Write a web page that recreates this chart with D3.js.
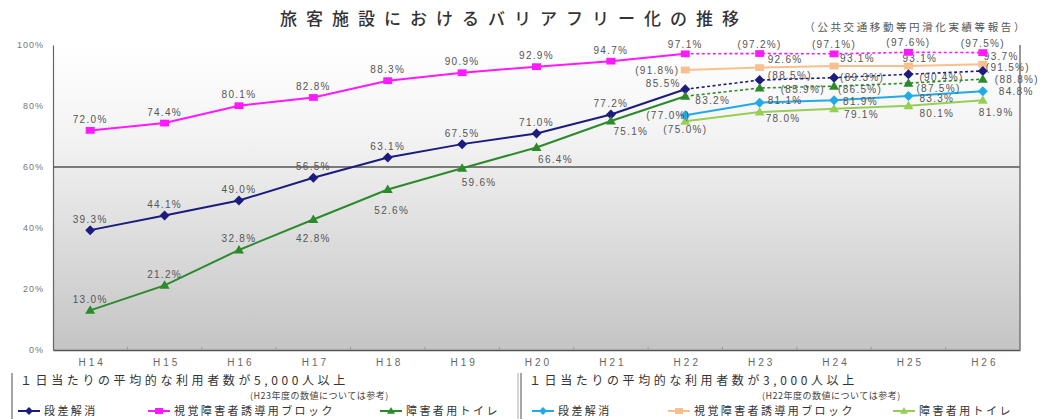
<!DOCTYPE html>
<html lang="ja">
<head>
<meta charset="utf-8">
<script src="https://cdn.jsdelivr.net/npm/d3@7/dist/d3.min.js"></script>
<style>
  html, body { margin: 0; padding: 0; background: #fff; }
  svg { display: block; }
  text { font-family: "Liberation Sans", "Noto Sans CJK JP", sans-serif; }
  .jp { font-family: "Noto Sans CJK JP", sans-serif; }
</style>
</head>
<body>
<svg id="chart" width="1040" height="419"></svg>
<script>
// ---- data -------------------------------------------------------------
const categories = ["H14","H15","H16","H17","H18","H19","H20","H21","H22","H23","H24","H25","H26"];
const yTicks = [0, 20, 40, 60, 80, 100];

// 1日当たり5,000人以上 (H14–H22 実績, H23–H26 参考値)
const step5000      = [39.3, 44.1, 49.0, 56.5, 63.1, 67.5, 71.0, 77.2, 85.5];
const step5000Ref   = [88.5, 89.3, 90.4, 91.5];
const block5000     = [72.0, 74.4, 80.1, 82.8, 88.3, 90.9, 92.9, 94.7, 97.1];
const block5000Ref  = [97.2, 97.1, 97.6, 97.5];
const toilet5000    = [13.0, 21.2, 32.8, 42.8, 52.6, 59.6, 66.4, 75.1, 83.2];
const toilet5000Ref = [85.9, 86.5, 87.5, 88.8];

// 1日当たり3,000人以上 (H22 は参考値, H23–H26)
const step3000   = [77.0, 81.1, 81.9, 83.3, 84.8];
const block3000  = [91.8, 92.6, 93.1, 93.1, 93.7];
const toilet3000 = [75.0, 78.0, 79.1, 80.1, 81.9];

const legendNames = ["段差解消", "視覚障害者誘導用ブロック", "障害者用トイレ"];

// ---- layout ------------------------------------------------------------
const svg = d3.select("#chart");
const plot = { left: 53, right: 1020, top: 45, bottom: 350 };

const x = d3.scalePoint().domain(categories).range([plot.left, plot.right]).padding(0.5);
const y = d3.scaleLinear().domain([0, 100]).range([plot.bottom, plot.top]);
const step = x.step();

const colors = {
  navy: "#1c1c7e", magenta: "#ff19ff", green: "#2b8a2b",
  sky: "#22a9e6", peach: "#f8c08e", lime: "#96cf55"
};

// background gradient of the plot area
const defs = svg.append("defs");
const grad = defs.append("linearGradient").attr("id", "bg")
  .attr("x1", 0).attr("y1", 0).attr("x2", 0).attr("y2", 1);
grad.append("stop").attr("offset", "0%").attr("stop-color", "#ffffff");
grad.append("stop").attr("offset", "30%").attr("stop-color", "#f3f3f3");
grad.append("stop").attr("offset", "100%").attr("stop-color", "#c4c4c4");

svg.append("rect")
  .attr("x", plot.left).attr("y", plot.top)
  .attr("width", plot.right - plot.left).attr("height", plot.bottom - plot.top)
  .attr("fill", "url(#bg)");

// title and source note
svg.append("text").attr("class", "jp")
  .attr("x", 514).attr("y", 25).attr("text-anchor", "middle")
  .attr("font-size", 17).attr("font-weight", 500).attr("letter-spacing", 9)
  .attr("fill", "#333").text("旅客施設におけるバリアフリー化の推移");

svg.append("text").attr("class", "jp")
  .attr("x", 1027).attr("y", 31).attr("text-anchor", "end")
  .attr("font-size", 10.5).attr("letter-spacing", 2.6)
  .attr("fill", "#555").text("（公共交通移動等円滑化実績等報告）");

// y axis
const yAxis = d3.axisLeft(y).tickValues(yTicks).tickFormat(d => d + "%").tickSize(0).tickPadding(9);
const gy = svg.append("g").attr("transform", `translate(${plot.left},0)`).call(yAxis);
gy.select(".domain").attr("stroke", "#666").attr("stroke-width", 1.2);
gy.selectAll("text").attr("font-size", 9).attr("fill", "#777").attr("letter-spacing", 1);

// x axis
const xAxis = d3.axisBottom(x).tickSize(0).tickPadding(9);
const gx = svg.append("g").attr("transform", `translate(0,${plot.bottom})`).call(xAxis);
gx.select(".domain").attr("stroke", "#555").attr("stroke-width", 1.5);
gx.selectAll("text").attr("font-size", 10).attr("fill", "#666").attr("letter-spacing", 3).attr("dx", 1.5);

// small category boundary ticks
svg.append("g").selectAll("line")
  .data(categories.slice(1))
  .join("line")
  .attr("x1", d => x(d) - step / 2).attr("x2", d => x(d) - step / 2)
  .attr("y1", plot.bottom - 3).attr("y2", plot.bottom)
  .attr("stroke", "#9a9a9a").attr("stroke-width", 1);

// 60% reference line and right frame
svg.append("line")
  .attr("x1", plot.left).attr("x2", plot.right)
  .attr("y1", y(60)).attr("y2", y(60))
  .attr("stroke", "#555").attr("stroke-width", 1.5);
svg.append("line")
  .attr("x1", plot.right).attr("x2", plot.right)
  .attr("y1", plot.top).attr("y2", plot.bottom)
  .attr("stroke", "#777").attr("stroke-width", 1.5);

// ---- marker helpers ----------------------------------------------------
function drawMarker(g, shape, cx, cy, color, s) {
  if (shape === "diamond") {
    g.append("path").attr("d", `M${cx},${cy - s}L${cx + s},${cy}L${cx},${cy + s}L${cx - s},${cy}Z`).attr("fill", color);
  } else if (shape === "square") {
    g.append("rect").attr("x", cx - s).attr("y", cy - s * 0.75).attr("width", 2 * s).attr("height", 1.5 * s).attr("fill", color);
  } else {
    g.append("path").attr("d", `M${cx},${cy - s}L${cx + s},${cy + s * 0.7}L${cx - s},${cy + s * 0.7}Z`).attr("fill", color);
  }
}

const line = d3.line().x(d => x(d.cat)).y(d => y(d.v));
const fmt = (v, ref) => ref ? `(${v.toFixed(1)}%)` : `${v.toFixed(1)}%`;

function drawSeries(opts) {
  const g = svg.append("g");
  g.append("path").datum(opts.points)
    .attr("d", line).attr("fill", "none")
    .attr("stroke", opts.color).attr("stroke-width", opts.width || 2)
    .attr("stroke-dasharray", opts.dash || null);
  opts.points.forEach((p, i) => {
    if (opts.skipFirstMarker && i === 0) return;
    drawMarker(g, opts.shape, x(p.cat), y(p.v), opts.color, opts.size || 4.5);
  });
  opts.points.forEach((p, i) => {
    if (opts.skipFirstMarker && i === 0) return;
    const [dx, dy, anchor] = opts.place(i);
    g.append("text")
      .attr("x", x(p.cat) + dx).attr("y", y(p.v) + dy)
      .attr("text-anchor", anchor)
      .attr("dominant-baseline", "central")
      .attr("font-size", 10).attr("letter-spacing", 1.3)
      .attr("fill", "#555")
      .text(fmt(p.v, p.ref));
  });
}

const solidCats = categories.slice(0, 9);
const refCats = categories.slice(9);
const lateCats = categories.slice(8);

const pts = (cats, vals, ref) => cats.map((c, i) => ({ cat: c, v: vals[i], ref: typeof ref === "function" ? ref(i) : ref }));

// 3,000人以上 series
drawSeries({ points: pts(lateCats, block3000, i => i === 0), color: colors.peach, shape: "square", size: 4.5,
  place: i => [[-6, 0, "end"], [8, -8, "start"], [6, -8, "start"], [-6, -8, "start"], [1, -8, "start"]][i] });
drawSeries({ points: pts(lateCats, toilet3000, i => i === 0), color: colors.lime, shape: "triangle", size: 5,
  place: i => [[0, 8, "middle"], [6, 6, "start"], [10, 6, "start"], [11, 8, "start"], [-4, 12, "start"]][i] });
drawSeries({ points: pts(lateCats, step3000, i => i === 0), color: colors.sky, shape: "diamond", size: 5,
  place: i => [[-17, 0, "middle"], [8, -2, "start"], [9, 1, "start"], [11, 3, "start"], [16, 0, "start"]][i] });

// 5,000人以上: reference (dashed) continuations from H22
function refPoints(solid, refVals) {
  return [{ cat: "H22", v: solid[solid.length - 1], ref: false }].concat(pts(refCats, refVals, true));
}
drawSeries({ points: refPoints(block5000, block5000Ref), color: colors.magenta, shape: "square", size: 4.5,
  dash: "3,2.5", width: 1.6, skipFirstMarker: true,
  place: i => [0, -9.5, "middle"] });
drawSeries({ points: refPoints(step5000, step5000Ref), color: colors.navy, shape: "diamond", size: 5,
  dash: "3,2.5", width: 1.6, skipFirstMarker: true,
  place: i => [null, [8, -5, "start"], [6, 0, "start"], [11, 3, "start"], [3, -3, "start"]][i] });
drawSeries({ points: refPoints(toilet5000, toilet5000Ref), color: colors.green, shape: "triangle", size: 5,
  dash: "3,2.5", width: 1.6, skipFirstMarker: true,
  place: i => [null, [21, 1, "start"], [4, 3, "start"], [8, 5, "start"], [12, 0, "start"]][i] });

// 5,000人以上: actual values H14–H22
drawSeries({ points: pts(solidCats, block5000, false), color: colors.magenta, shape: "square", size: 4.5,
  place: i => [0, i === 8 ? -9.5 : -11, "middle"] });
drawSeries({ points: pts(solidCats, step5000, false), color: colors.navy, shape: "diamond", size: 5,
  place: i => i === 8 ? [-22, -6, "middle"] : [0, -11, "middle"] });
drawSeries({ points: pts(solidCats, toilet5000, false), color: colors.green, shape: "triangle", size: 5,
  place: i => [[0, -11, "middle"], [0, -11, "middle"], [0, -11, "middle"], [0, 19, "middle"],
               [4, 21, "middle"], [17, 14, "middle"], [19, 12, "middle"], [20, 11, "middle"], [10, 4, "start"]][i] });

// ---- legends -----------------------------------------------------------
function drawLegend(x0, heading, note, noteX, palette, itemX) {
  const g = svg.append("g");
  g.append("line").attr("x1", x0).attr("x2", x0).attr("y1", 373).attr("y2", 419)
    .attr("stroke", "#888").attr("stroke-width", 1.5);
  g.append("text").attr("class", "jp").attr("x", x0 + 8).attr("y", 385)
    .attr("font-size", 12).attr("letter-spacing", 3.6).attr("fill", "#333").text(heading);
  g.append("text").attr("class", "jp").attr("x", noteX).attr("y", 399)
    .attr("font-size", 9).attr("letter-spacing", 0.5).attr("fill", "#444").text(note);
  const shapes = ["diamond", "square", "triangle"];
  legendNames.forEach((name, i) => {
    const lx = itemX[i];
    g.append("line").attr("x1", lx).attr("x2", lx + 22).attr("y1", 411).attr("y2", 411)
      .attr("stroke", palette[i]).attr("stroke-width", 2);
    drawMarker(g, shapes[i], lx + 11, 411, palette[i], 4);
    g.append("text").attr("class", "jp").attr("x", lx + 26).attr("y", 415)
      .attr("font-size", 11).attr("letter-spacing", 2.4).attr("fill", "#333").text(name);
  });
}

drawLegend(12, "１日当たりの平均的な利用者数が5,000人以上", "(H23年度の数値については参考)", 250,
  [colors.navy, colors.magenta, colors.green], [18, 148, 380]);
drawLegend(521, "１日当たりの平均的な利用者数が3,000人以上", "(H22年度の数値については参考)", 762,
  [colors.sky, colors.peach, colors.lime], [532, 668, 893]);
svg.append("line").attr("x1", 518).attr("x2", 518).attr("y1", 373).attr("y2", 419)
  .attr("stroke", "#aaa").attr("stroke-width", 1);
</script>
</body>
</html>
